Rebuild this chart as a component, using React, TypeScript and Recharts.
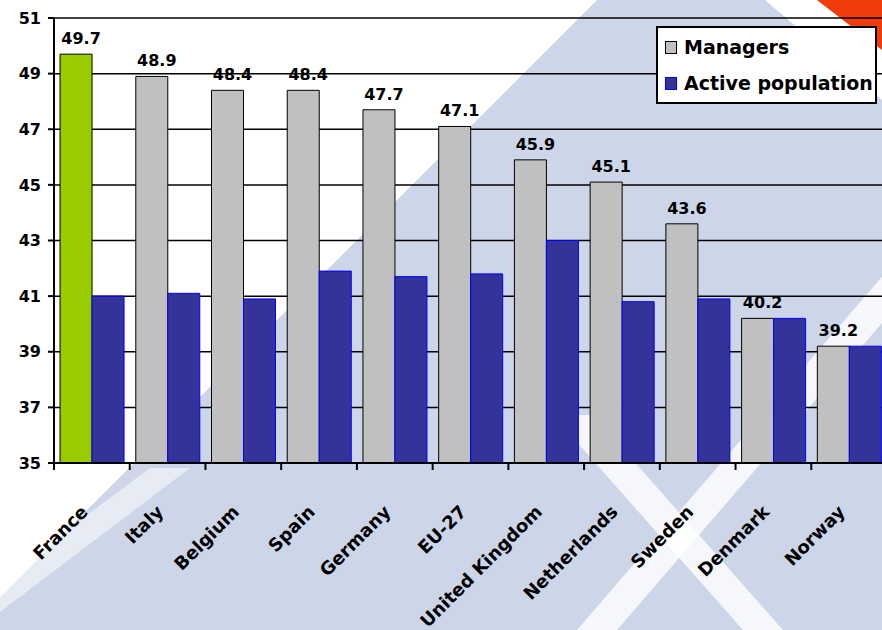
import { BarChart, Bar, XAxis, YAxis, CartesianGrid, Cell, LabelList, Legend } from 'recharts'

const countries = [
  'France',
  'Italy',
  'Belgium',
  'Spain',
  'Germany',
  'EU-27',
  'United Kingdom',
  'Netherlands',
  'Sweden',
  'Denmark',
  'Norway',
]
const managers = [49.7, 48.9, 48.4, 48.4, 47.7, 47.1, 45.9, 45.1, 43.6, 40.2, 39.2]
const activePopulation = [41.0, 41.1, 40.9, 41.9, 41.7, 41.8, 43.0, 40.8, 40.9, 40.2, 39.2]
const yTicks = [35, 37, 39, 41, 43, 45, 47, 49, 51]
const highlight = 'France'

const data = countries.map((name, i) => ({
  name,
  managers: managers[i],
  active: activePopulation[i],
}))

const FONT = '"DejaVu Sans", Verdana, sans-serif'
const CHART_W = 896
const CHART_H = 630
const MARGIN = { top: 18, right: 9, left: 0, bottom: 107 }
const Y_AXIS_W = 54
const BAND = (CHART_W - MARGIN.left - MARGIN.right - Y_AXIS_W) / countries.length

function CountryTick(props: any) {
  const { x, y, payload } = props
  const left = x - BAND / 2
  const tx = x - 3
  const ty = y + 50
  return (
    <g>
      <line x1={left} y1={y} x2={left} y2={y + 7} stroke="#000" strokeWidth={2} />
      <text
        x={tx}
        y={ty}
        transform={`rotate(-45, ${tx}, ${ty})`}
        textAnchor="end"
        fontFamily={FONT}
        fontWeight="bold"
        fontSize={18}
        fill="#000"
      >
        {payload.value}
      </text>
    </g>
  )
}

function ValueLabel(props: any) {
  const { x, y, width, value } = props
  return (
    <text
      x={x + width / 2 + 5}
      y={y - 10}
      textAnchor="middle"
      fontFamily={FONT}
      fontWeight="bold"
      fontSize={16}
      fill="#000"
    >
      {value.toFixed(1)}
    </text>
  )
}

function LegendBox() {
  const row = (fill: string, stroke: string, label: string) => (
    <div style={{ display: 'flex', alignItems: 'center', height: 36, whiteSpace: 'nowrap' }}>
      <span
        style={{
          display: 'inline-block',
          width: 10,
          height: 11,
          background: fill,
          border: `1.5px solid ${stroke}`,
          marginRight: 7,
          flex: 'none',
        }}
      />
      <span>{label}</span>
    </div>
  )
  return (
    <div
      style={{
        background: '#fff',
        border: '2px solid #000',
        padding: '1px 0 1px 7px',
        fontFamily: FONT,
        fontWeight: 'bold',
        fontSize: 19,
        color: '#000',
        width: 210,
        boxSizing: 'content-box',
        lineHeight: 1,
      }}
    >
      {row('#C0C0C0', '#000', 'Managers')}
      {row('#333399', '#0000FF', 'Active population')}
    </div>
  )
}

export default function App() {
  return (
    <div
      style={{
        position: 'fixed',
        top: 0,
        left: 0,
        width: 882,
        height: 630,
        overflow: 'hidden',
        background: '#CDD6E9',
      }}
    >
      <svg width={882} height={630} style={{ position: 'absolute', top: 0, left: 0 }}>
        <polygon points="0,0 597,0 0,597" fill="#fff" />
        <polygon points="553,415 593,415 783,630 743,630" fill="#fff" opacity={0.8} />
        <polygon points="905,250 945,250 617,630 577,630" fill="#fff" opacity={0.8} />
        <polygon points="0,580 150,468 190,468 0,612" fill="#fff" opacity={0.5} />
        <polygon points="765,0 817,0 882,50 882,100" fill="#fff" />
        <polygon points="817,0 882,0 882,50" fill="#F03C0A" />
      </svg>
      <div style={{ position: 'absolute', top: 0, left: 0 }}>
        <BarChart
          width={CHART_W}
          height={CHART_H}
          data={data}
          margin={MARGIN}
          barCategoryGap="8%"
          barGap={0}
        >
          <CartesianGrid vertical={false} stroke="#000" strokeWidth={1.5} />
          <XAxis
            dataKey="name"
            interval={0}
            height={60}
            tickSize={0}
            tickMargin={0}
            tickLine={false}
            axisLine={{ stroke: '#000', strokeWidth: 2 }}
            tick={<CountryTick />}
          />
          <YAxis
            domain={[35, 51]}
            ticks={yTicks}
            width={Y_AXIS_W}
            allowDataOverflow
            tickSize={6}
            tickMargin={7}
            axisLine={{ stroke: '#000', strokeWidth: 2 }}
            tickLine={{ stroke: '#000', strokeWidth: 2 }}
            tick={{ fontFamily: FONT, fontWeight: 'bold', fontSize: 16, fill: '#000' }}
          />
          <Legend
            layout="vertical"
            verticalAlign="middle"
            align="center"
            wrapperStyle={{ top: 26, left: 656, width: 'auto' }}
            content={() => <LegendBox />}
          />
          <Bar
            dataKey="managers"
            name="Managers"
            fill="#C0C0C0"
            stroke="#000"
            strokeWidth={1}
            isAnimationActive={false}
          >
            {data.map((d) => (
              <Cell key={d.name} fill={d.name === highlight ? '#99CC00' : '#C0C0C0'} />
            ))}
            <LabelList dataKey="managers" content={<ValueLabel />} />
          </Bar>
          <Bar
            dataKey="active"
            name="Active population"
            fill="#333399"
            stroke="#0000FF"
            strokeWidth={1}
            isAnimationActive={false}
          />
        </BarChart>
      </div>
    </div>
  )
}
